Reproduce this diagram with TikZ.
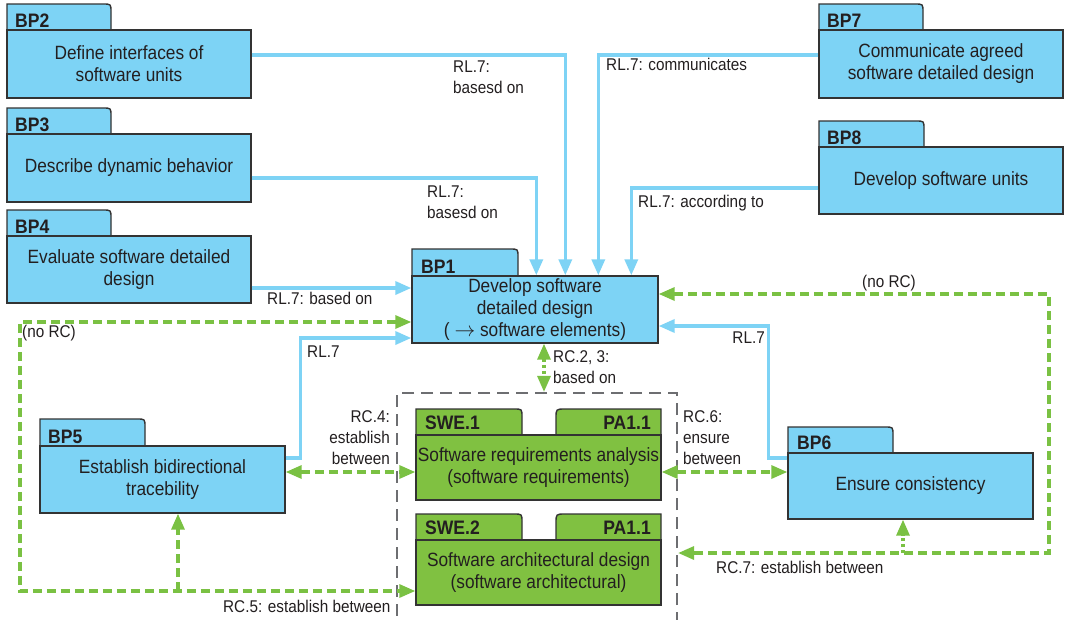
\documentclass[tikz,border=0pt]{standalone}
\usepackage{fontspec}
\setmainfont{Liberation Sans}[FakeStretch=0.9]
\usetikzlibrary{arrows.meta}

\definecolor{bpblue}{HTML}{7DD3F5}
\definecolor{swegreen}{HTML}{80C141}
\definecolor{lineblue}{HTML}{7ED3F5}
\definecolor{dashgreen}{HTML}{7AC143}
\definecolor{boxgray}{HTML}{6D6E71}
\definecolor{edge}{HTML}{333333}
\definecolor{ink}{HTML}{231F20}

\newcommand\mainsize{\fontsize{19.2}{22}\selectfont}
\newcommand\lblsize{\fontsize{17}{21}\selectfont}
\newcommand\tabsize{\fontsize{19.5}{22}\selectfont\bfseries}

\tikzset{
  tip/.tip={Triangle[length=16pt,width=13pt]},
  bpbody/.style={draw=edge, fill=bpblue, line width=1.4pt, rectangle,
    inner sep=0pt, align=center, font=\mainsize, text=ink},
  swebody/.style={bpbody, fill=swegreen},
  bptab/.style={draw=edge, fill=bpblue, line width=1.4pt},
  swetab/.style={bptab, fill=swegreen},
  tabtext/.style={font=\tabsize, text=ink, inner sep=0pt, anchor=base west},
  lbl/.style={font=\lblsize, text=ink, inner sep=0pt, anchor=base west, align=left},
  bl/.style={draw=lineblue, line width=3.4pt, -tip},
  gr/.style={draw=dashgreen, line width=3.2pt, dash pattern=on 9pt off 5pt},
  grdot/.style={draw=dashgreen, line width=3.2pt, dash pattern=on 3pt off 3pt},
}

% package tab with a rounded top-right corner
\newcommand\tabR[5][bptab]{%
  \draw[#1] (#2,#5) -- (#2,#4) -- ({#3-8},#4) .. controls (#3,#4) .. (#3,{#4+8}) -- (#3,#5) -- cycle;}
% package tab with a rounded top-left corner
\newcommand\tabL[5][swetab]{%
  \draw[#1] (#2,#5) -- (#2,{#4+9}) .. controls (#2,#4) .. ({#2+9},#4) -- (#3,#4) -- (#3,#5) -- cycle;}

\begin{document}
\begin{tikzpicture}[x=1pt,y=-1pt]
\useasboundingbox[fill=white] (0,0) rectangle (1070,619);

% ---------- base practices ----------
\tabR{7}{111}{4}{30}
\node[bpbody, minimum width=244pt, minimum height=68pt] (bp2) at (129,64) {Define interfaces of\\software units};
\node[tabtext] (bp2t) at (15,27) {BP2};

\tabR{7}{111}{108}{134}
\node[bpbody, minimum width=244pt, minimum height=68pt] (bp3) at (129,168) {Describe dynamic behavior};
\node[tabtext] (bp3t) at (15,131) {BP3};

\tabR{7}{111}{210}{236}
\node[bpbody, minimum width=244pt, minimum height=67pt] (bp4) at (129,269.5) {Evaluate software detailed\\design};
\node[tabtext] (bp4t) at (15,233) {BP4};

\tabR{819}{923}{4}{30}
\node[bpbody, minimum width=244pt, minimum height=68pt] (bp7) at (941,64) {Communicate agreed\\software detailed design};
\node[tabtext] (bp7t) at (827,27) {BP7};

\tabR{819}{924}{121}{147}
\node[bpbody, minimum width=244pt, minimum height=67pt] (bp8) at (941,180.5) {Develop software units};
\node[tabtext] (bp8t) at (827,144) {BP8};

\tabR{412}{518}{249}{276}
\node[bpbody, minimum width=246pt, minimum height=67pt] (bp1) at (535,309.5) {Develop software\\detailed design\\( $\rightarrow$ software elements)};
\node[tabtext] (bp1t) at (421,273) {BP1};

\tabR{40}{145}{419}{446}
\node[bpbody, minimum width=245pt, minimum height=67pt] (bp5) at (162.5,479.5) {Establish bidirectional\\tracebility};
\node[tabtext] (bp5t) at (48,443) {BP5};

\tabR{788}{893}{427}{453}
\node[bpbody, minimum width=245pt, minimum height=66pt] (bp6) at (910.5,486) {Ensure consistency};
\node[tabtext] (bp6t) at (797,449) {BP6};

% ---------- process group ----------
\node[draw=boxgray, line width=2.2pt, dash pattern=on 12pt off 7pt, minimum width=280pt, minimum height=236pt, inner sep=0pt] (grp) at (537,511) {};

\tabR[swetab]{416}{522}{409}{435}
\tabL{556}{661}{409}{435}
\node[swebody, minimum width=245pt, minimum height=65pt] (swe1) at (538.5,467.5) {Software requirements analysis\\(software requirements)};
\node[tabtext] (swe1t) at (425,429) {SWE.1};
\node[tabtext, anchor=base east] (swe1p) at (651,429) {PA1.1};

\tabR[swetab]{416}{522}{514}{540}
\tabL{556}{661}{514}{540}
\node[swebody, minimum width=245pt, minimum height=65pt] (swe2) at (538.5,572.5) {Software architectural design\\(software architectural)};
\node[tabtext] (swe2t) at (425,534) {SWE.2};
\node[tabtext, anchor=base east] (swe2p) at (651,534) {PA1.1};

% ---------- RL.7 links into BP1 ----------
\draw[bl] ([yshift=9pt]bp2.east) -| ([xshift=154pt]bp1.north west);
\draw[bl] ([yshift=-10pt]bp3.east) -| ([xshift=125pt]bp1.north west);
\draw[bl] ([yshift=9pt]bp7.west) -| ([xshift=187pt]bp1.north west);
\draw[bl] ([yshift=-7.5pt]bp8.west) -| ([xshift=220pt]bp1.north west);
\draw[bl] ([yshift=-18.5pt]bp4.east) -- ([yshift=-18.5pt]bp4.east -| bp1.west);
\draw[bl] ([yshift=21.5pt]bp5.east) -- ++(15,0) |- ([yshift=-28.5pt]bp1.west);
\draw[bl] ([yshift=28pt]bp6.west) -- ++(-19,0) |- ([yshift=-16.5pt]bp1.east);

% ---------- RC links ----------
\coordinate (rright) at (1049,553);
\coordinate (rleft) at (20,591);
\draw[gr, tip-tip] ([yshift=15.5pt]bp1.east) -| (rright) -- (rright -| grp.east);
\draw[grdot, -tip] ([xshift=-7.5pt]bp6.south |- rright) -- ([xshift=-7.5pt]bp6.south);
\draw[gr, tip-tip] ([yshift=-12.5pt]bp1.west) -| (rleft) -- (rleft -| swe2.west);
\draw[gr, -tip] ([xshift=15.5pt]bp5.south |- rleft) -- ([xshift=15.5pt]bp5.south);
\draw[gr, tip-tip] ([yshift=7.5pt]bp5.east) -- ([yshift=7.5pt]bp5.east -| swe1.west);
\draw[gr, tip-tip] ([yshift=-4.5pt]swe1.east) -- ([yshift=-4.5pt]swe1.east -| bp6.west);
\draw[grdot, tip-tip] ([xshift=9pt]bp1.south) -- ([xshift=9pt]bp1.south |- grp.north);

% ---------- link labels (base = last line) ----------
\node[lbl] (l1) at (453,93) {RL.7:\\basesd on};
\node[lbl] (l2) at (427,218) {RL.7:\\basesd on};
\node[lbl] (l3) at (606,70) {RL.7: communicates};
\node[lbl] (l4) at (638,207) {RL.7: according to};
\node[lbl] (l5) at (267,304) {RL.7: based on};
\node[lbl] (l6) at (22,337) {(no RC)};
\node[lbl] (l7) at (307,357) {RL.7};
\node[lbl] (l8) at (553,383) {RC.2, 3:\\based on};
\node[lbl, anchor=base east, align=right] (l9) at (390,464) {RC.4:\\establish\\between};
\node[lbl] (l10) at (683,464) {RC.6:\\ensure\\between};
\node[lbl, anchor=base east] (l11) at (765,343) {RL.7};
\node[lbl, anchor=base] (l12) at (889,287) {(no RC)};
\node[lbl] (l13) at (716,573) {RC.7: establish between};
\node[lbl] (l14) at (223,612) {RC.5: establish between};
\end{tikzpicture}
\end{document}
